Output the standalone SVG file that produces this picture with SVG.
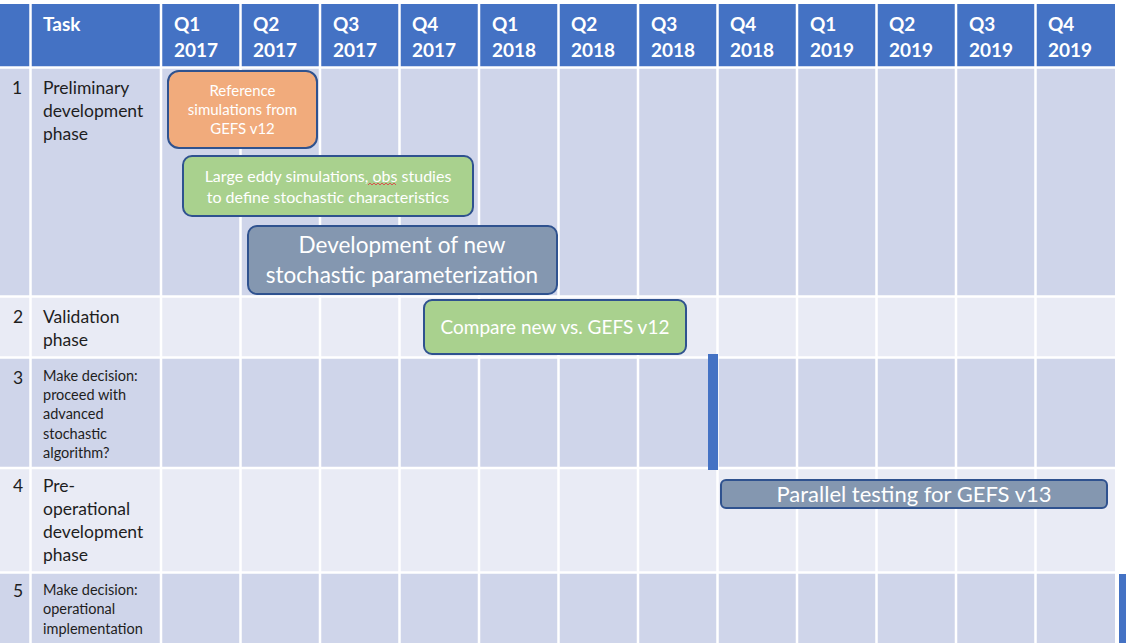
<svg xmlns="http://www.w3.org/2000/svg" width="1126" height="643" viewBox="0 0 1126 643">
<style>
.hd{fill:#4472C4}
.dk{fill:#CFD5EA}
.lt{fill:#E9EBF5}
.grid{stroke:#FFFFFF;stroke-width:2.5}
.ht{font-family:Lato,"Open Sans","Liberation Sans",sans-serif;font-weight:bold;font-size:19px;fill:#FFFFFF}
.tt{font-family:Lato,"Open Sans","Liberation Sans",sans-serif;font-size:17.5px;fill:#1E1E1E}
.ts{font-family:Lato,"Open Sans","Liberation Sans",sans-serif;font-size:14.5px;fill:#1E1E1E}
.bar{stroke:#2F528F;stroke-width:2}
.bt{font-family:Lato,"Open Sans","Liberation Sans",sans-serif;fill:#FFFFFF;text-anchor:middle}
.orange{fill:#F1AB7C}
.green{fill:#A9D18E}
.slate{fill:#8497B0}
.mile{fill:#4472C4}
</style>
<rect width="1126" height="643" fill="#FFFFFF"/>
<g id="table">
<rect class="hd" x="0" y="4" width="1115" height="63"/>
<rect class="dk" x="0" y="68" width="1115" height="228"/>
<rect class="lt" x="0" y="297" width="1115" height="60"/>
<rect class="dk" x="0" y="358" width="1115" height="110"/>
<rect class="lt" x="0" y="469" width="1115" height="103"/>
<rect class="dk" x="0" y="573" width="1115" height="70"/>
<g class="grid">
<line x1="0" y1="67.5" x2="1115" y2="67.5"/>
<line x1="0" y1="296.5" x2="1115" y2="296.5"/>
<line x1="0" y1="357.5" x2="1115" y2="357.5"/>
<line x1="0" y1="468" x2="1115" y2="468"/>
<line x1="0" y1="572.5" x2="1115" y2="572.5"/>
<line x1="30.5" y1="4" x2="30.5" y2="643"/>
<line x1="161" y1="4" x2="161" y2="643"/>
<line x1="240.5" y1="4" x2="240.5" y2="643"/>
<line x1="320" y1="4" x2="320" y2="643"/>
<line x1="399.5" y1="4" x2="399.5" y2="643"/>
<line x1="479" y1="4" x2="479" y2="643"/>
<line x1="558.5" y1="4" x2="558.5" y2="643"/>
<line x1="638" y1="4" x2="638" y2="643"/>
<line x1="717.5" y1="4" x2="717.5" y2="643"/>
<line x1="797" y1="4" x2="797" y2="643"/>
<line x1="876.5" y1="4" x2="876.5" y2="643"/>
<line x1="956" y1="4" x2="956" y2="643"/>
<line x1="1035.5" y1="4" x2="1035.5" y2="643"/>
</g>
</g>
<g id="header">
<text class="ht" x="43" y="31">Task</text>
<text class="ht" x="174" y="31">Q1</text><text class="ht" x="174" y="57">2017</text>
<text class="ht" x="253" y="31">Q2</text><text class="ht" x="253" y="57">2017</text>
<text class="ht" x="333" y="31">Q3</text><text class="ht" x="333" y="57">2017</text>
<text class="ht" x="412" y="31">Q4</text><text class="ht" x="412" y="57">2017</text>
<text class="ht" x="492" y="31">Q1</text><text class="ht" x="492" y="57">2018</text>
<text class="ht" x="571" y="31">Q2</text><text class="ht" x="571" y="57">2018</text>
<text class="ht" x="651" y="31">Q3</text><text class="ht" x="651" y="57">2018</text>
<text class="ht" x="730" y="31">Q4</text><text class="ht" x="730" y="57">2018</text>
<text class="ht" x="810" y="31">Q1</text><text class="ht" x="810" y="57">2019</text>
<text class="ht" x="889" y="31">Q2</text><text class="ht" x="889" y="57">2019</text>
<text class="ht" x="969" y="31">Q3</text><text class="ht" x="969" y="57">2019</text>
<text class="ht" x="1048" y="31">Q4</text><text class="ht" x="1048" y="57">2019</text>
</g>
<g id="task1">
<text class="tt" x="12" y="94">1</text>
<text class="tt" x="43" y="94">Preliminary</text>
<text class="tt" x="43" y="117">development</text>
<text class="tt" x="43" y="140">phase</text>
</g>
<g id="task2">
<text class="tt" x="13" y="323">2</text>
<text class="tt" x="43" y="323">Validation</text>
<text class="tt" x="43" y="346">phase</text>
</g>
<g id="task3">
<text class="tt" x="13" y="384">3</text>
<text class="ts" x="43" y="381">Make decision:</text>
<text class="ts" x="43" y="400">proceed with</text>
<text class="ts" x="43" y="419">advanced</text>
<text class="ts" x="43" y="439">stochastic</text>
<text class="ts" x="43" y="458">algorithm?</text>
</g>
<g id="task4">
<text class="tt" x="13" y="492">4</text>
<text class="tt" x="43" y="492">Pre-</text>
<text class="tt" x="43" y="515">operational</text>
<text class="tt" x="43" y="538">development</text>
<text class="tt" x="43" y="561">phase</text>
</g>
<g id="task5">
<text class="tt" x="13" y="597">5</text>
<text class="ts" x="43" y="595">Make decision:</text>
<text class="ts" x="43" y="614">operational</text>
<text class="ts" x="43" y="634">implementation</text>
</g>
<g id="bar-reference">
<rect class="bar orange" x="168" y="71" width="149" height="77" rx="11"/>
<text class="bt" x="242.5" y="96" font-size="15">Reference</text>
<text class="bt" x="242.5" y="115" font-size="15">simulations from</text>
<text class="bt" x="242.5" y="134" font-size="15">GEFS v12</text>
</g>
<g id="bar-les">
<rect class="bar green" x="183" y="156" width="290" height="60" rx="9"/>
<text class="bt" x="328" y="182" font-size="16">Large eddy simulations, obs studies</text>
<text class="bt" x="328" y="203" font-size="16">to define stochastic characteristics</text>
<path d="M368 185 l2 -2 l2 2 l2 -2 l2 2 l2 -2 l2 2 l2 -2 l2 2 l2 -2 l2 2 l2 -2 l2 2 l2 -2 l2 2" fill="none" stroke="#D9534F" stroke-width="1"/>
</g>
<g id="bar-development">
<rect class="bar slate" x="248" y="226" width="309" height="68" rx="9"/>
<text class="bt" x="402" y="253" font-size="22.5">Development of new</text>
<text class="bt" x="402" y="283" font-size="22.5">stochastic parameterization</text>
</g>
<g id="bar-compare">
<rect class="bar green" x="424" y="300" width="262" height="54" rx="8"/>
<text class="bt" x="555" y="334" font-size="19">Compare new vs. GEFS v12</text>
</g>
<g id="milestone-decision1">
<rect class="mile" x="708" y="354" width="10" height="116"/>
</g>
<g id="bar-parallel">
<rect class="bar slate" x="721" y="480" width="386" height="28" rx="5"/>
<text class="bt" x="914" y="502" font-size="22">Parallel testing for GEFS v13</text>
</g>
<g id="milestone-decision2">
<rect class="mile" x="1119" y="574" width="7" height="69"/>
</g>
</svg>
